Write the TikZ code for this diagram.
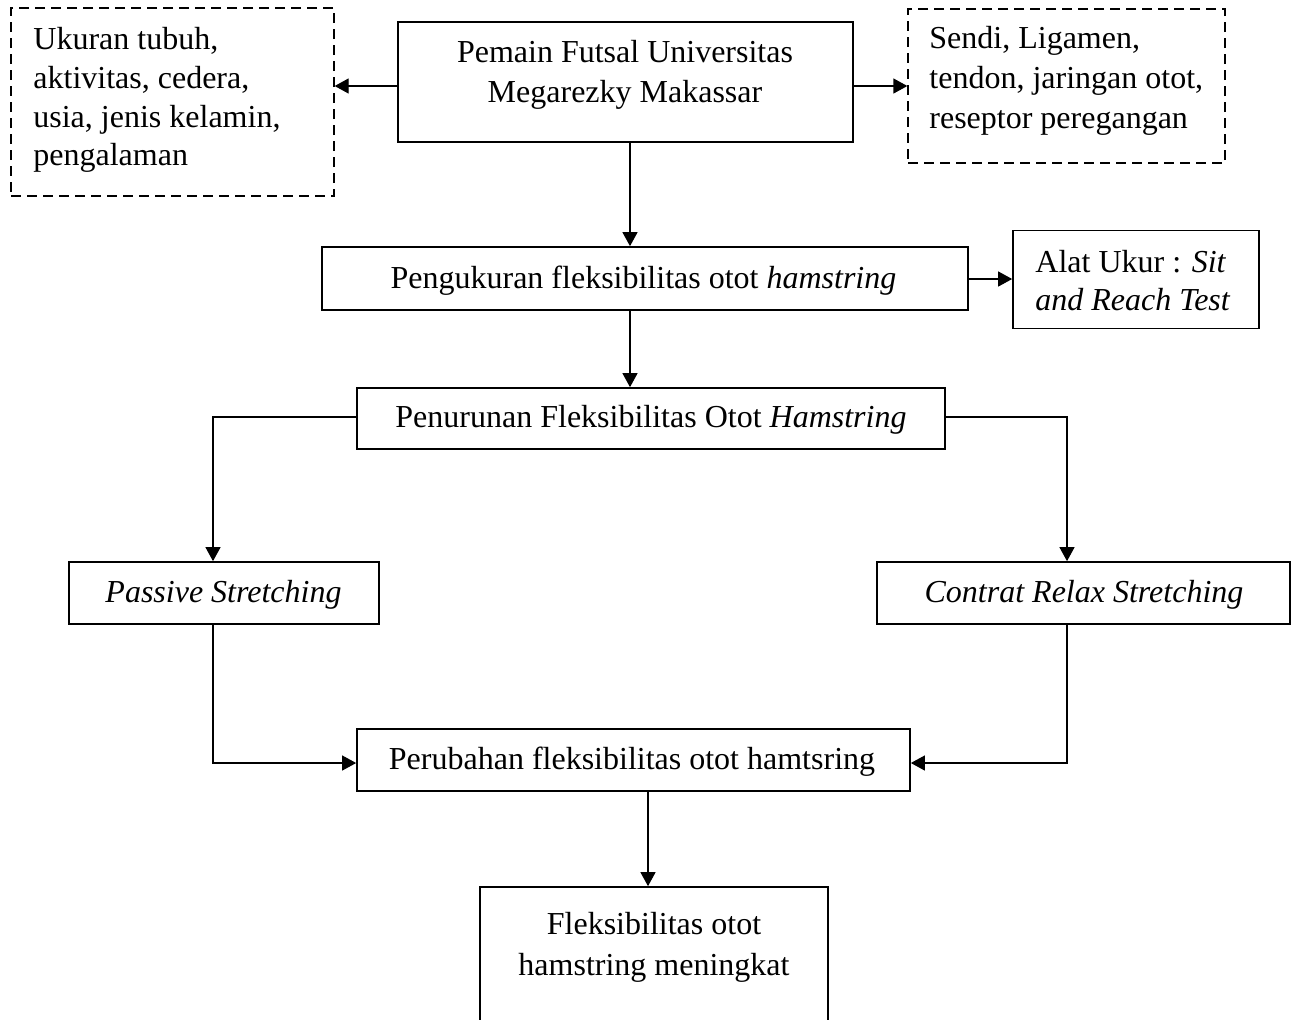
\documentclass[tikz,border=0pt]{standalone}
\usepackage{fontspec}
\setmainfont{Liberation Serif}
\usetikzlibrary{arrows.meta}
\tikzset{
  box/.style={draw, line width=0.85pt, rectangle, inner sep=0pt},
  dbox/.style={draw, line width=0.65pt, dash pattern=on 5pt off 3pt, rectangle, inner sep=0pt},
  txt/.style={inner sep=0pt, font=\fontsize{16}{19.6}\selectfont},
  lt/.style={txt, anchor=base west},
  ct/.style={txt, anchor=base},
  arr/.style={line width=0.65pt, -{Triangle[length=7pt,width=7.5pt]}},
  thinarr/.style={line width=0.55pt, -{Triangle[length=7pt,width=7.5pt]}},
}
\begin{document}
\begin{tikzpicture}[x=0.5pt,y=-0.5pt]
\useasboundingbox (0,0) rectangle (1294,1019);
\clip (0,0) rectangle (1294,1019);
% boxes
\node[dbox, minimum width=161.5pt, minimum height=94pt] (L) at (172.5,102) {};
\node[box, minimum width=227.5pt, minimum height=60pt] (T) at (625.5,82) {};
\node[dbox, minimum width=158.5pt, minimum height=77pt] (R) at (1066.5,86) {};
\node[box, minimum width=323pt, minimum height=31.5pt] (P) at (645,278.5) {};
\node[box, minimum width=123pt, minimum height=49pt] (A) at (1136,279.5) {};
\node[box, minimum width=294pt, minimum height=30.5pt] (N) at (651,418.5) {};
\node[box, minimum width=155pt, minimum height=31pt] (PS) at (224,593) {};
\node[box, minimum width=206.5pt, minimum height=31pt] (CR) at (1083.5,593) {};
\node[box, minimum width=276.5pt, minimum height=31pt] (PF) at (633.5,760) {};
\node[box, minimum width=174pt, minimum height=76.5pt] (F) at (654,963.5) {};
% texts
\node[lt] (L1) at (33,49) {Ukuran tubuh,};
\node[lt] (L2) at (33,88) {aktivitas, cedera,};
\node[lt] (L3) at (33,127) {usia, jenis kelamin,};
\node[lt] (L4) at (33,165) {pengalaman};
\node[ct] (T1) at (625,62) {Pemain Futsal Universitas};
\node[ct] (T2) at (625,102) {Megarezky Makassar};
\node[lt] (R1) at (929,48) {Sendi, Ligamen,};
\node[lt] (R2) at (929,88) {tendon, jaringan otot,};
\node[lt] (R3) at (929,128) {reseptor peregangan};
\node[ct] (Pt) at (643.5,288) {Pengukuran fleksibilitas otot \textit{hamstring}};
\node[lt] (A1) at (1035,272) {Alat Ukur : \textit{Sit}};
\node[lt] (A2) at (1035,310) {\textit{and Reach Test}};
\node[ct] (Nt) at (651,427) {Penurunan Fleksibilitas Otot \textit{Hamstring}};
\node[ct] (PSt) at (223.5,602) {\textit{Passive Stretching}};
\node[ct] (CRt) at (1084,602) {\textit{Contrat Relax Stretching}};
\node[ct] (PFt) at (632,769) {Perubahan fleksibilitas otot hamtsring};
\node[ct] (F1) at (654,934) {Fleksibilitas otot};
\node[ct] (F2) at (654,975) {hamstring meningkat};
% helper coordinates
\coordinate (yA) at (0,86);
\coordinate (yP) at (0,279);
\coordinate (xm) at (630,0);
\coordinate (xl) at (213,0);
\coordinate (xr) at (1067,0);
\coordinate (yN) at (0,417);
\coordinate (yB) at (0,763);
\coordinate (xf) at (648,0);
% connectors
\draw[arr] (T.west |- yA) -- (L.east |- yA);
\draw[arr] (T.east |- yA) -- (R.west |- yA);
\draw[arr] (T.south -| xm) -- (P.north -| xm);
\draw[arr] (P.east |- yP) -- (A.west |- yP);
\draw[arr] (P.south -| xm) -- (N.north -| xm);
\draw[thinarr] (N.west |- yN) -| (PS.north -| xl);
\draw[thinarr] (N.east |- yN) -| (CR.north -| xr);
\draw[thinarr] (PS.south -| xl) |- (PF.west |- yB);
\draw[thinarr] (CR.south -| xr) |- (PF.east |- yB);
\draw[arr] (PF.south -| xf) -- (F.north -| xf);
\end{tikzpicture}
\end{document}
